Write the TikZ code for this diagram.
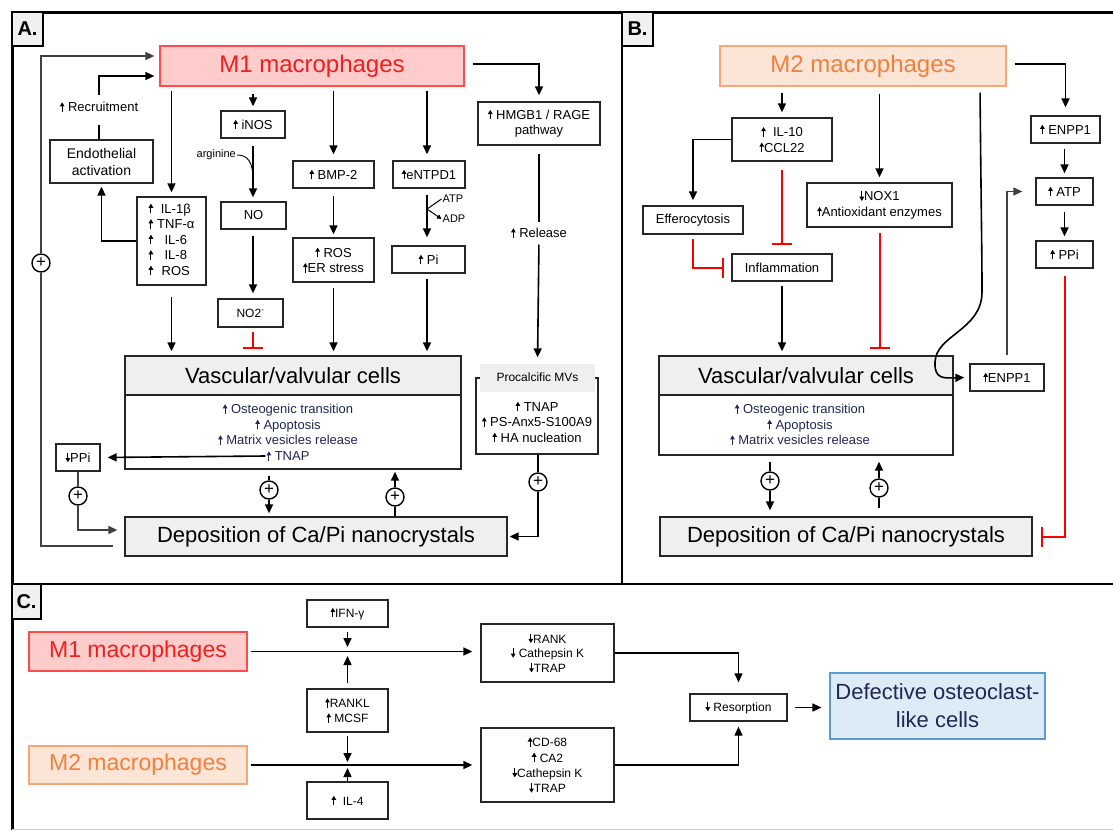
\documentclass[tikz,border=0pt]{standalone}
\usepackage{fontspec}
\setmainfont{Liberation Sans}
\usetikzlibrary{arrows.meta,calc}
\definecolor{mOneFill}{HTML}{FFCCCC}
\definecolor{mOneLine}{HTML}{FF4B4B}
\definecolor{mOneText}{HTML}{F01E1E}
\definecolor{mTwoFill}{HTML}{FCE4D6}
\definecolor{mTwoLine}{HTML}{F8A878}
\definecolor{mTwoText}{HTML}{F0803C}
\definecolor{defFill}{HTML}{DDEBF7}
\definecolor{defLine}{HTML}{5B9BD5}
\definecolor{navy}{HTML}{1F2850}
\definecolor{hdrFill}{HTML}{EFEFEF}
\newcommand\fsm{\fontsize{13}{15.5}\selectfont}
\newcommand\fmid{\fontsize{14}{17}\selectfont}
\newcommand\ftiny{\fontsize{11}{13}\selectfont}
\newcommand\fbig{\fontsize{22}{28}\selectfont}
\newcommand\fmac{\fontsize{24}{28}\selectfont}
\newcommand\upar{\tikz[baseline=0pt,x=1pt,y=1pt]\draw[line width=1.1pt,-{Triangle[length=4.2pt,width=4.6pt]}] (0,0)--(0,9.5);}
\newcommand\dnar{\tikz[baseline=0pt,x=1pt,y=1pt]\draw[line width=1.1pt,-{Triangle[length=4.2pt,width=4.6pt]}] (0,9.5)--(0,0);}
\tikzset{
  bx/.style={draw=black!85, line width=1.3pt, inner sep=0pt, align=center, font=\fsm, fill=white},
  hdr/.style={draw=black!85, line width=1.3pt, inner sep=0pt, align=center, font=\fbig, fill=hdrFill},
  txt/.style={inner sep=1pt, align=center, font=\fsm},
  arr/.style={line width=1.6pt, -{Triangle[length=9pt,width=8pt]}},
  ln/.style={line width=1.6pt},
  inh/.style={draw=red, line width=2pt, -{Bar[width=20pt]}},
  pl/.style={circle, draw, line width=1.4pt, fill=white, minimum size=18pt, inner sep=0pt, font=\fontsize{17}{17}\selectfont},
  lbl/.style={draw, line width=1.4pt, fill=black!6, minimum width=31pt, minimum height=34pt, inner sep=0pt, font=\fontsize{20}{20}\selectfont\bfseries},
  mone/.style={draw=mOneLine, line width=1.2pt, fill=mOneFill, text=mOneText, inner sep=0pt, font=\fmac},
  mtwo/.style={draw=mTwoLine, line width=1.2pt, fill=mTwoFill, text=mTwoText, inner sep=0pt, font=\fmac},
}
\begin{document}
\begin{tikzpicture}[x=1pt,y=-1pt]
\useasboundingbox (0,0) rectangle (1113,830);
\fill[white] (0,0) rectangle (1113,830);
% frames
\draw[line width=3pt] (12,12) -- (1113,12);
\draw[line width=3pt] (12,10.5) -- (12,830);
\draw[line width=2pt] (622,12) -- (622,584);
\draw[line width=2pt] (12,584) -- (1113,584);
\draw[line width=1pt, black!20] (12,829) -- (1113,829);
\node[lbl] (la) at (27.5,29) {A.};
\node[lbl] (lb) at (637.5,29) {B.};
\node[lbl, minimum width=29pt, minimum height=35pt] (lc) at (26.5,601.5) {C.};

% ================= Panel A =================
\node[mone, minimum width=304pt, minimum height=40pt] (m1a) at (312,66) {M1 macrophages};
\node[bx, font=\fmid, minimum width=103pt, minimum height=43pt] (endo) at (101.5,161.5) {Endothelial\\activation};
\node[txt] (recr) at (99,107) {\upar\ Recruitment};
\node[bx, minimum width=69pt, minimum height=88pt] (il) at (171.5,241)
  {\begin{tabular}{@{}c@{\hspace{4pt}}c@{}}\upar & IL-1β\\ \upar & TNF-α\\ \upar & IL-6\\ \upar & IL-8\\ \upar & ROS\end{tabular}};
\node[bx, minimum width=64pt, minimum height=27pt] (inos) at (253,124.5) {\upar\ iNOS};
\node[bx, minimum width=65pt, minimum height=27pt] (no) at (253.5,215.5) {NO};
\node[bx, font=\fontsize{12}{14}\selectfont, minimum width=65pt, minimum height=28pt] (no2) at (250.5,313) {NO2\textsuperscript{-}};
\node[txt, font=\ftiny, anchor=east] (arg) at (237,155) {arginine};
\node[bx, minimum width=81pt, minimum height=27pt] (bmp) at (333.5,174.5) {\upar\ BMP-2};
\node[bx, minimum width=81pt, minimum height=44pt] (ros) at (333.5,260) {\upar\ ROS\\\upar ER stress};
\node[bx, minimum width=72pt, minimum height=27pt] (ent) at (429,174.5) {\upar eNTPD1};
\node[bx, minimum width=73pt, minimum height=27pt] (pi) at (428.5,259.5) {\upar\ Pi};
\node[txt, font=\ftiny] (atpA) at (453,199) {ATP};
\node[txt, font=\ftiny] (adpA) at (454,219) {ADP};
\node[bx, minimum width=122pt, minimum height=43pt] (hm) at (539,123.5) {\upar\ HMGB1 / RAGE\\pathway};
\node[txt] (rel) at (539,233) {\upar\ Release};
\node[bx, minimum width=122pt, minimum height=76pt] (mv) at (537,416) {};
\node[fill=hdrFill, minimum width=115pt, minimum height=28pt, inner sep=0pt, font=\fontsize{12}{14}\selectfont] (mvh) at (537.5,377.5) {Procalcific MVs};
\node[txt] (mvt) at (537,422) {\upar\ TNAP\\\upar\ PS-Anx5-S100A9\\\upar\ HA nucleation};
\node[hdr, minimum width=336pt, minimum height=39pt] (vah) at (293,375.5) {Vascular/valvular cells};
\node[bx, minimum width=336pt, minimum height=74pt] (vab) at (293,432) {};
\node[txt, text=navy] (vat) at (288,424.5) {\upar\ Osteogenic transition\\\upar\ Apoptosis\\\upar\ Matrix vesicles release};
\node[txt, text=navy] (tnap) at (288,456) {\upar\ TNAP};
\node[bx, minimum width=44pt, minimum height=27pt] (ppi) at (78,457.5) {\dnar PPi};
\node[hdr, minimum width=382pt, minimum height=39pt] (depA) at (316,536.5) {Deposition of Ca/Pi nanocrystals};
\node[pl] (pcL) at (41,263) {+};
\node[pl] (pcP) at (78,496) {+};
\node[pl] (pcA1) at (269,490) {+};
\node[pl] (pcA2) at (395,497) {+};
\node[pl] (pcMV) at (538,482) {+};

% connectors A
\coordinate (lpA) at (113,546);
\draw[ln, black!75] (lpA) -| (pcL);
\draw[arr, black!75, shorten >=5pt] (pcL) |- ($(m1a.west)+(0,-10)$);
\draw[ln, shorten >=11pt] (endo.north -| recr.south) -- (recr.south);
\draw[arr, shorten <=6pt, shorten >=5pt] (recr.north) |- ($(m1a.west)+(0,10)$);
\draw[arr, shorten >=3pt] (il.west) -| (endo.south);
\draw[arr, shorten <=4pt, shorten >=4pt] (m1a.south -| il.north) -- (il.north);
\draw[arr, shorten <=11pt, shorten >=4pt] (il.south) -- (vah.north -| il.south);
\draw[arr, shorten <=7pt, shorten >=4pt] (m1a.south -| inos.north) -- (inos.north);
\draw[arr, shorten <=7pt, shorten >=4pt] (inos.south) -- (inos.south |- no.north);
\draw[line width=0.9pt] (arg.east) .. controls (248,155) and (253,162) .. (253,180);
\draw[arr, shorten <=6pt, shorten >=5pt] (no.south -| 253,0) -- (no2.north -| 253,0);
\draw[inh, shorten <=4pt, shorten >=6pt] (no2.south -| 253,0) -- (vah.north -| 253,0);
\draw[arr, shorten <=4pt, shorten >=6pt] (m1a.south -| bmp.north) -- (bmp.north);
\draw[arr, shorten <=7pt, shorten >=3pt] (bmp.south) -- (ros.north);
\draw[arr, shorten <=5pt, shorten >=4pt] (ros.south) -- (vah.north -| ros.south);
\draw[arr, shorten <=4pt, shorten >=6pt] (m1a.south -| 427,0) -- (ent.north -| 427,0);
\draw[arr, shorten <=6pt, shorten >=8pt] (ent.south -| 427,0) -- (pi.north -| 427,0);
\draw[line width=1pt] (atpA.west) -- (427,209);
\draw[line width=1pt, -{Triangle[length=4.5pt,width=4.5pt]}] (427,209) -- (adpA.west);
\draw[arr, shorten <=5pt, shorten >=4pt] (pi.south -| 427,0) -- (vah.north -| 427,0);
\draw[arr, shorten <=8pt, shorten >=6pt] ($(m1a.east)+(0,-2)$) -| (hm.north);
\draw[ln, shorten <=8pt, shorten >=5pt] (hm.south) -- (rel.north);
\draw[arr, shorten <=5pt, shorten >=6pt] (rel.south) -- (mvh.north);
\draw[ln] (mv.south -| pcMV) -- (pcMV);
\draw[arr, shorten >=2pt] (pcMV) |- (depA.east);
\draw[arr, shorten >=7pt] (tnap.west) -- (ppi.east);
\draw[ln, black!75] (ppi.south) -- (pcP);
\draw[arr, black!75, shorten >=7pt] (pcP) |- ($(depA.west)+(0,-6.5)$);
\draw[ln, shorten <=6pt] (vab.south -| pcA1) -- (pcA1);
\draw[arr, shorten >=3pt] (pcA1) -- (depA.north -| pcA1);
\draw[ln] (depA.north -| pcA2) -- (pcA2);
\draw[arr, shorten >=2pt] (pcA2) -- (vab.south -| pcA2);

% ================= Panel B =================
\node[mtwo, minimum width=286pt, minimum height=40pt] (m2b) at (863,66) {M2 macrophages};
\node[bx, minimum width=100pt, minimum height=43pt] (il10) at (782,139.5) {\upar\ \ IL-10\\\upar CCL22};
\node[bx, minimum width=100pt, minimum height=28pt] (eff) at (693,220) {Efferocytosis};
\node[bx, minimum width=100pt, minimum height=27pt] (infl) at (782,267.5) {Inflammation};
\node[bx, minimum width=145pt, minimum height=44pt] (nox) at (879.5,205) {\dnar NOX1\\\upar Antioxidant enzymes};
\node[bx, minimum width=69pt, minimum height=27pt] (enppU) at (1065.5,129.5) {\upar\ ENPP1};
\node[bx, minimum width=57pt, minimum height=27pt] (atpB) at (1064.5,191.5) {\upar\ ATP};
\node[bx, minimum width=57pt, minimum height=27pt] (ppiB) at (1064.5,254.5) {\upar\ PPi};
\node[bx, minimum width=74pt, minimum height=27pt] (enppL) at (1007,377.5) {\upar ENPP1};
\node[hdr, minimum width=294pt, minimum height=39pt] (vbh) at (806,375.5) {Vascular/valvular cells};
\node[bx, minimum width=294pt, minimum height=60pt] (vbb) at (806,425) {};
\node[txt, text=navy] (vbt) at (800,424.5) {\upar\ Osteogenic transition\\\upar\ Apoptosis\\\upar\ Matrix vesicles release};
\node[hdr, minimum width=372pt, minimum height=39pt] (depB) at (846,536.5) {Deposition of Ca/Pi nanocrystals};
\node[pl] (pcB1) at (770,481) {+};
\node[pl] (pcB2) at (879,488) {+};

\draw[arr, shorten <=6pt, shorten >=5pt] (m2b.south -| il10.north) -- (il10.north);
\draw[arr, shorten >=5pt] (il10.west) -| (eff.north);
\draw[inh, shorten <=4pt, shorten >=7pt] (eff.south) |- (infl.west);
\draw[inh, shorten <=8pt, shorten >=8pt] (il10.south) -- (infl.north);
\draw[arr, shorten <=4pt, shorten >=4pt] (infl.south) -- (vbh.north -| infl.south);
\draw[arr, shorten <=7pt, shorten >=5pt] (m2b.south -| nox.north) -- (nox.north);
\draw[inh, shorten <=5pt, shorten >=6pt] (nox.south) -- (vbh.north -| nox.south);
\draw[arr, shorten <=8pt, shorten >=8pt] ($(m2b.east)+(0,-2)$) -| (enppU.north);
\draw[arr, shorten <=5pt, shorten >=4pt] (enppU.south -| atpB.north) -- (atpB.north);
\draw[arr, shorten <=6pt, shorten >=4pt] (atpB.south) -- (ppiB.north);
\draw[inh, shorten <=7pt, shorten >=8pt] (ppiB.south) |- (depB.east);
\draw[arr, line width=1.1pt, black!75, shorten <=8pt, shorten >=13pt] (enppL.north) |- (atpB.west);
\draw[arr, shorten <=6pt, shorten >=5pt] (m2b.south -| 980,0) .. controls (981,200) and (982,250) .. (982,292)
   .. controls (982,330) and (936,335) .. (935,362) .. controls (934,380) and (945,378) .. (enppL.west);
\draw[ln, shorten <=6pt] (vbb.south -| pcB1) -- (pcB1);
\draw[arr, shorten >=6pt] (pcB1) -- (depB.north -| pcB1);
\draw[ln, shorten <=8pt] (depB.north -| pcB2) -- (pcB2);
\draw[arr, shorten >=6pt] (pcB2) -- (vbb.south -| pcB2);

% ================= Panel C =================
\node[mone, font=\fontsize{23}{27}\selectfont, minimum width=218pt, minimum height=39pt] (m1c) at (138,651.5) {M1 macrophages};
\node[mtwo, font=\fontsize{23}{27}\selectfont, minimum width=218pt, minimum height=38pt] (m2c) at (138,765) {M2 macrophages};
\node[bx, font=\fontsize{12}{15}\selectfont, minimum width=81pt, minimum height=27pt] (ifn) at (347.5,613.5) {\upar IFN-γ};
\node[bx, font=\fontsize{12}{15}\selectfont, minimum width=81pt, minimum height=43pt] (rankl) at (347.5,710.5) {\upar RANKL\\\upar\ MCSF};
\node[bx, font=\fontsize{12}{15}\selectfont, minimum width=81pt, minimum height=37pt] (il4) at (347.5,800.5) {\upar\ \ IL-4};
\node[bx, font=\fontsize{12}{14.7}\selectfont, minimum width=133pt, minimum height=58pt] (rank) at (547.5,653) {\dnar RANK\\\dnar\ Cathepsin K\\\dnar TRAP};
\node[bx, font=\fontsize{12}{15.3}\selectfont, minimum width=133pt, minimum height=74pt] (cd) at (547.5,765) {\upar CD-68\\\upar\ CA2\\\dnar Cathepsin K\\\dnar TRAP};
\node[bx, font=\fontsize{12}{15}\selectfont, minimum width=97pt, minimum height=27pt] (res) at (738.5,707.5) {\dnar\ Resorption};
\node[draw=defLine, line width=1.2pt, fill=defFill, text=navy, align=center, inner sep=0pt, font=\fontsize{22}{28}\selectfont, minimum width=215pt, minimum height=66pt] (def) at (937.5,706) {Defective osteoclast-\\like cells};
\coordinate (j1) at (347.5,651);
\coordinate (j2) at (347.5,765);
\draw[arr, shorten <=3pt, shorten >=8pt] (m1c.east) -- (m1c.east -| rank.west);
\draw[arr, shorten <=4pt, shorten >=4pt] (ifn.south) -- (j1);
\draw[arr, shorten <=5pt, shorten >=5pt] (rankl.north) -- (j1);
\draw[arr, shorten <=3pt, shorten >=3pt] (rankl.south) -- (j2);
\draw[arr, shorten >=3pt] (il4.north) -- (j2);
\draw[arr, shorten <=3pt, shorten >=8pt] (m2c.east) -- (m2c.east -| cd.west);
\draw[arr, line width=1.2pt, shorten >=11pt] (rank.east) -| (res.north);
\draw[arr, line width=1.2pt, shorten >=5pt] (cd.east) -| (res.south);
\draw[arr, shorten <=7pt, shorten >=8pt] (res.east) -- (def.west |- res.east);
\end{tikzpicture}
\end{document}
